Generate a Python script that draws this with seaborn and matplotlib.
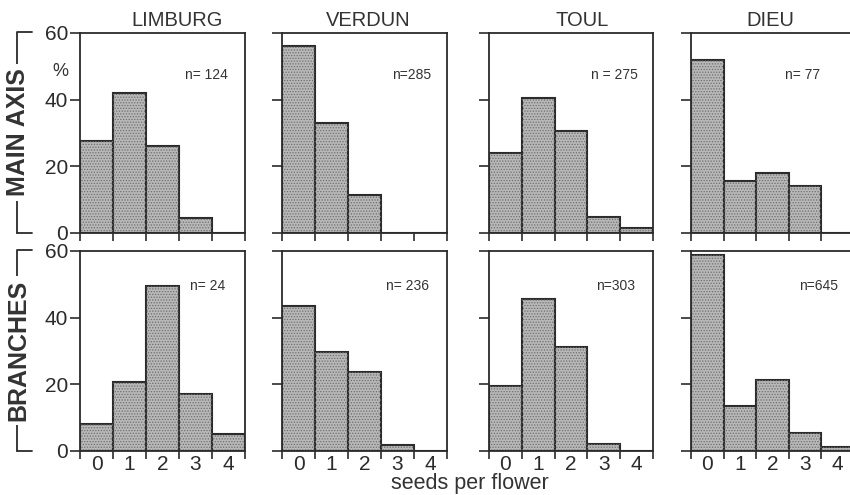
import matplotlib
matplotlib.use("Agg")
import matplotlib.pyplot as plt
from matplotlib.lines import Line2D
import seaborn as sns
import pandas as pd
import numpy as np

# ---- data (percent of flowers per seed count) ----
seeds = [0, 1, 2, 3, 4]
sites = ["LIMBURG", "VERDUN", "TOUL", "DIEU"]
rows = ["MAIN AXIS", "BRANCHES"]

main_limburg = [27.5, 42.0, 26.0, 4.5, 0.0]
main_verdun = [56.0, 33.0, 11.5, 0.0, 0.0]
main_toul = [24.0, 40.5, 30.5, 4.8, 1.6]
main_dieu = [51.9, 15.6, 18.0, 14.0, 0.0]

br_limburg = [8.2, 20.8, 49.6, 17.1, 5.0]
br_verdun = [43.6, 29.7, 23.6, 1.9, 0.0]
br_toul = [19.6, 45.7, 31.1, 2.0, 0.0]
br_dieu = [58.8, 13.5, 21.3, 5.5, 1.3]

n_main = ["n= 124", "n=285", "n = 275", "n= 77"]
n_branch = ["n= 24", "n= 236", "n=303", "n=645"]

yticks = [0, 20, 40, 60]
xlabel = "seeds per flower"

values = [[main_limburg, main_verdun, main_toul, main_dieu],
          [br_limburg, br_verdun, br_toul, br_dieu]]
n_labels = [n_main, n_branch]

# ---- style ----
sns.set_style("ticks")
plt.rcParams["font.family"] = ["Liberation Sans", "DejaVu Sans"]
ink = "#2b2b2b"
plt.rcParams["axes.edgecolor"] = ink
plt.rcParams["xtick.color"] = ink
plt.rcParams["ytick.color"] = ink
plt.rcParams["text.color"] = "#333333"
plt.rcParams["hatch.linewidth"] = 0.6

W, H = 850, 495
fig = plt.figure(figsize=(W / 100, H / 100), dpi=100)

col_px = [(80, 245), (282, 447), (489, 653), (691, 854)]
row_px = [(33, 233), (251, 451)]
title_x = [177, 368, 582, 770]
n_xfrac = [[0.764, 0.785, 0.762, 0.684], [0.773, 0.758, 0.774, 0.782]]
n_yfrac = [0.79, 0.825]

for r, (top, bot) in enumerate(row_px):
    for c, (left, right) in enumerate(col_px):
        ax = fig.add_axes([left / W, 1 - bot / H, (right - left) / W, (bot - top) / H])
        df = pd.DataFrame({"seeds": seeds, "pct": values[r][c]})
        sns.barplot(data=df, x="seeds", y="pct", ax=ax, order=seeds,
                    color="#b8b8b8", saturation=1, width=1.0,
                    edgecolor=ink, linewidth=1.5)
        # fine halftone texture
        sns.barplot(data=df, x="seeds", y="pct", ax=ax, order=seeds,
                    facecolor="none", saturation=1, width=1.0,
                    edgecolor="#6e6e6e", linewidth=0, hatch="......")
        ax.set_xlim(-0.5, 4.5)
        ax.set_ylim(0, 60)
        ax.set_xlabel("")
        ax.set_ylabel("")
        for s in ax.spines.values():
            s.set_visible(True)
            s.set_linewidth(1.3)
            s.set_color(ink)
        ax.set_yticks(yticks)
        ax.tick_params(axis="y", length=7, width=1.2, pad=1.5, labelsize=15,
                       direction="out")
        if c > 0:
            ax.set_yticklabels([])
        # x: labels at bin centres, tick marks at bin edges
        ax.set_xticks(range(len(seeds)))
        ax.set_xticks(np.arange(len(seeds) + 1) - 0.5, minor=True)
        ax.tick_params(axis="x", which="major", length=0, pad=3, labelsize=15)
        ax.tick_params(axis="x", which="minor", length=6, width=1.2,
                       direction="out")
        if r == 0:
            ax.set_xticklabels([])
        else:
            ax.set_xticklabels([str(s) for s in seeds])
        ax.text(n_xfrac[r][c], n_yfrac[r], n_labels[r][c], transform=ax.transAxes,
                ha="center", va="center", fontsize=10)
        if r == 0:
            fig.text(title_x[c] / W, 1 - 20 / H, sites[c], ha="center",
                     va="center", fontsize=14.5)
        if r == 0 and c == 0:
            fig.text(60 / W, 1 - 71 / H, "%", ha="center", va="center",
                     fontsize=13)

# row labels with brackets
for r, (top, bot) in enumerate(row_px):
    xl = 17 / W
    xr = 32 / W
    yt = 1 - (top - 1) / H
    yb = 1 - bot / H
    for xs, ys in [([xr, xl, xl], [yt, yt, yb]), ([xl, xr], [yb, yb])]:
        fig.add_artist(Line2D(xs, ys, transform=fig.transFigure, color=ink,
                              lw=1.3))
    fig.text(xl + 1 / W, (yt + yb) / 2, rows[r], rotation=90, ha="center",
             va="center", fontsize=18, fontweight="bold",
             bbox=dict(facecolor="white", edgecolor="none", pad=3))

fig.text(470 / W, 1 - 483 / H, xlabel, ha="center", va="center", fontsize=15.5)

fig.savefig("out.png", dpi=100, facecolor="white")
